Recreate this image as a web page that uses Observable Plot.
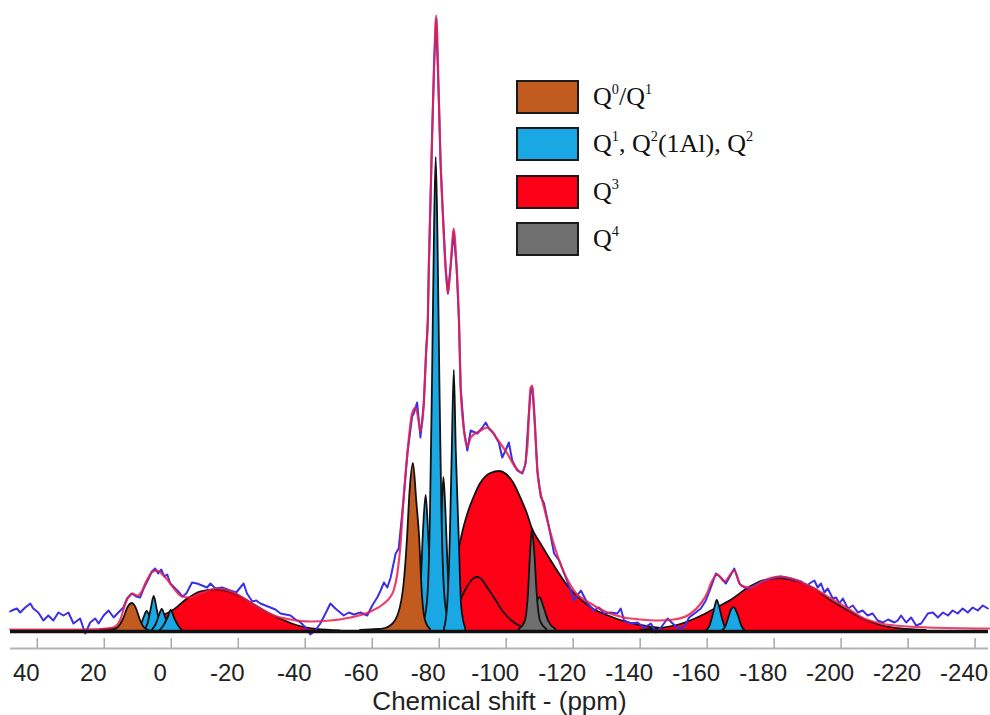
<!DOCTYPE html>
<html>
<head>
<meta charset="utf-8">
<script src="https://cdn.jsdelivr.net/npm/d3@7"></script>
<script src="https://cdn.jsdelivr.net/npm/@observablehq/plot@0.6"></script>
<style>
  html, body { margin: 0; padding: 0; background: #fff; }
  #wrap { position: relative; width: 990px; height: 715px; }
  .leg-row { position: absolute; left: 516px; display: flex; align-items: center; }
  .leg-box { width: 59px; height: 30px; border: 2px solid #1a1a1a; }
  .leg-text { margin-left: 14px; font-family: "Liberation Serif", "Times New Roman", serif; font-size: 26px; color: #111; white-space: nowrap; }
  .leg-text sup { font-size: 0.55em; vertical-align: 0.75em; line-height: 0; }
</style>
</head>
<body>
<div id="wrap"></div>
<script>
// ---- x axis (ppm) ----
const xDomain = [48, -244];
const xTicks = [40, 20, 0, -20, -40, -60, -80, -100, -120, -140, -160, -180, -200, -220, -240];
const xLabel = "Chemical shift - (ppm)";
const yDomain = [-17, 631]; // intensity, arbitrary units

// ---- legend ----
const groupKeys = ["q0q1", "q1q2", "q3", "q4"];
const groupColors = ["#c15b1f", "#1aa8e5", "#fe0016", "#6f6f6f"];
const legendLabels = [
  "Q<sup>0</sup>/Q<sup>1</sup>",
  "Q<sup>1</sup>, Q<sup>2</sup>(1Al), Q<sup>2</sup>",
  "Q<sup>3</sup>",
  "Q<sup>4</sup>"
];

// ---- experimental spectrum [ppm, intensity] ----
const experimental = [[48.1,20],[47.6,21],[46.1,23],[45.1,19],[43.6,24],[42.1,28],[41.2,23],[39.7,19],[38.2,11],[36.7,16],[35.2,11],[33.7,19],[32.2,16],[30.7,19],[29.2,8],[27.2,13],[25.7,-2],[24.2,9],[22.7,13],[21.7,8],[20.2,16],[18.7,21],[17.2,14],[15.8,19],[14.3,24],[13.2,33],[11.7,38],[10.5,35],[9.3,34],[8.1,44],[6.9,52],[5.8,60],[4.8,63],[3.9,58],[3.0,62],[2.1,55],[1.2,57],[0.3,48],[-0.9,44],[-2.1,40],[-3.3,35],[-4.5,38],[-6.2,49],[-7.7,48],[-9.2,46],[-10.7,44],[-11.7,48],[-13.2,43],[-15.2,44],[-17.6,41],[-19.4,39],[-20.6,44],[-21.6,48],[-22.6,38],[-24.2,30],[-25.4,31],[-26.6,28],[-28.1,26],[-29.6,24],[-31.1,22],[-32.6,18],[-34.1,17],[-35.6,16],[-37.1,12],[-38.6,9],[-40.1,4],[-41.5,-3],[-43.0,1],[-44.5,8],[-46.5,21],[-47.5,28],[-49.0,23],[-51.5,16],[-53.0,19],[-54.5,17],[-56.5,19],[-58.5,16],[-60.0,26],[-61.5,34],[-62.5,41],[-63.5,49],[-64.5,44],[-65.5,54],[-67.0,78],[-67.9,83],[-69.3,130],[-70.5,178],[-71.9,215],[-72.4,218],[-73.4,229],[-74.4,194],[-75.4,228],[-76.1,280],[-76.6,311],[-76.9,364],[-77.4,431],[-77.9,498],[-78.5,570],[-79.1,612],[-79.9,531],[-80.4,470],[-80.9,431],[-81.9,364],[-82.6,338],[-83.4,365],[-84.3,400],[-85.2,364],[-85.9,311],[-86.4,244],[-87.4,201],[-88.4,181],[-89.4,201],[-91.4,198],[-92.9,204],[-93.9,209],[-94.8,203],[-96.3,198],[-97.8,189],[-98.8,174],[-99.8,181],[-100.8,189],[-101.8,171],[-103.3,161],[-104.8,158],[-105.8,168],[-106.7,215],[-107.3,240],[-107.8,244],[-108.5,211],[-109.3,161],[-110.3,135],[-111.3,128],[-112.8,104],[-114.3,78],[-115.8,71],[-117.3,58],[-119.3,41],[-120.2,31],[-122.3,41],[-124.3,28],[-126.2,21],[-127.7,24],[-129.2,18],[-131.2,19],[-133.2,18],[-134.2,23],[-135.2,11],[-137.2,8],[-139.2,9],[-141.2,4],[-143.2,8],[-144.7,-1],[-146.2,4],[-148.2,13],[-149.7,8],[-151.2,3],[-153.1,4],[-154.6,14],[-156.6,19],[-158.1,23],[-159.6,31],[-161.1,44],[-162.6,58],[-164.1,54],[-165.6,48],[-168.1,63],[-169.6,48],[-171.1,44],[-172.6,43],[-174.1,46],[-176.1,49],[-179.0,53],[-182.0,55],[-185.0,53],[-188.0,50],[-189.8,46],[-191.0,49],[-192.0,51],[-193.0,44],[-194.0,48],[-195.0,39],[-196.0,43],[-197.5,33],[-198.5,34],[-199.5,28],[-200.5,33],[-202.0,23],[-203.5,26],[-205.0,19],[-206.4,21],[-207.9,16],[-209.4,18],[-210.9,11],[-212.5,9],[-214.0,12],[-215.9,9],[-216.9,11],[-217.9,16],[-219.4,9],[-220.9,14],[-222.4,6],[-223.9,8],[-225.9,18],[-227.4,19],[-228.9,14],[-230.4,19],[-231.9,16],[-233.3,21],[-234.8,18],[-236.3,23],[-237.8,19],[-239.3,24],[-240.8,21],[-242.3,26],[-243.8,23]];

// ---- total fit [ppm, intensity] ----
const fitCurve = [[48.1,2],[33.2,2],[21.2,2.5],[17.3,4],[15.2,12],[13.7,28],[11.7,38],[10.2,36],[8.8,40],[7.5,50],[5.8,59],[4.3,61],[2.3,56],[0.3,48],[-1.5,40],[-3.2,35],[-5.7,34],[-8.7,38],[-13.7,43],[-18.6,39],[-24.6,27],[-30.6,16],[-35.6,12],[-41.5,10],[-47.5,11],[-53.5,14],[-59.5,20],[-63.5,28],[-65.5,35],[-66.4,41],[-67.5,58],[-68.4,85],[-69.3,130],[-70.5,178],[-71.9,218],[-72.9,224],[-73.8,212],[-74.4,200],[-75.4,228],[-76.1,280],[-76.6,311],[-76.9,364],[-77.4,431],[-77.9,498],[-78.5,570],[-79.1,616],[-79.9,531],[-80.4,470],[-80.9,431],[-81.9,364],[-82.6,338],[-83.4,365],[-84.3,403],[-85.2,364],[-85.9,311],[-86.4,244],[-87.4,201],[-88.4,185],[-89.4,194],[-92.4,201],[-94.4,204],[-97.4,192],[-100.3,178],[-103.3,162],[-104.8,159],[-106.3,184],[-107.3,244],[-107.8,246],[-108.5,211],[-109.3,161],[-110.3,138],[-111.3,124],[-112.8,104],[-115.3,76],[-117.8,55],[-120.2,41],[-125.2,28],[-130.2,19],[-135.2,14],[-140.2,12],[-145.2,11],[-150.1,12],[-155.1,18],[-158.1,28],[-160.1,39],[-161.1,48],[-163.1,57],[-165.1,50],[-168.1,61],[-170.1,46],[-173.1,44],[-177.0,51],[-181.5,55],[-187.0,51],[-192.0,43],[-197.0,33],[-202.0,23],[-206.9,13],[-211.9,8],[-215.9,6],[-225.9,4],[-244.2,3]];

// ---- deconvolution components, each peak a list of [ppm, intensity] ----
const q3Peaks = [
  [[21.2,1.5],[15.2,3.5],[9.3,7.5],[3.3,14.5],[-0.6,21],[-4.7,32],[-8.7,39.5],[-13.7,41.7],[-18.6,38],[-23.6,29],[-28.6,19],[-33.6,11],[-38.5,5],[-43.5,2],[-50.5,0.5]],
  [[-56.5,1],[-62.5,2],[-68.4,3],[-74.4,5],[-78.9,12],[-81.9,30],[-84.0,55],[-85.8,80],[-87.4,104],[-88.9,121],[-90.4,134],[-92.4,148],[-95.4,158],[-98.1,160],[-100.1,157],[-102.3,148],[-104.3,134],[-106.3,118],[-107.8,103],[-110.3,88],[-114.3,66],[-118.3,46],[-122.3,32],[-126.2,22],[-130.2,16],[-135.2,10],[-140.2,6],[-146.2,3],[-155.1,1.5],[-164.1,0.5]],
  [[-78.9,2],[-82.4,8],[-84.4,18],[-86.4,31],[-88.4,44],[-89.8,51],[-91.4,54],[-92.4,53],[-94.4,44],[-96.4,34],[-99.3,19],[-102.3,9],[-104.9,4],[-108.8,1]],
  [[-140.2,1],[-146.2,3],[-152.1,7],[-158.1,15],[-162.6,23],[-167.1,31],[-172.1,43],[-176.6,50.5],[-181.7,53],[-186.8,50],[-192.0,42.7],[-197.0,31],[-202.0,21],[-206.9,12],[-211.9,6],[-217.9,2.5],[-225.4,1]]
];
const q4Peaks = [
  [[-105.7,2],[-107.6,10],[-108.9,25],[-110.1,34],[-111.2,25],[-112.7,10],[-114.8,2]],
  [[-103.9,2],[-105.7,10],[-106.6,35],[-107.3,80],[-107.8,101],[-108.5,80],[-109.3,35],[-110.3,10],[-112.1,2]]
];
const q1q2Peaks = [
  [[10.2,1],[9.0,6],[8.1,14],[7.2,20],[6.3,14],[5.4,6],[4.2,1]],
  [[8.1,1],[6.9,8],[6.0,22],[5.1,35],[4.2,22],[3.3,8],[2.1,1]],
  [[5.7,1],[4.5,7],[3.6,15],[2.7,22],[1.8,15],[0.9,7],[-0.3,1]],
  [[3.3,1],[2.1,6],[0.9,14],[0,21],[-0.9,14],[-2.1,6],[-3.3,1]],
  [[-72.0,2],[-73.5,12],[-74.6,45],[-75.3,100],[-76.1,136],[-76.8,100],[-77.6,45],[-78.6,12],[-80.1,2]],
  [[-78.6,2],[-79.5,15],[-80.3,60],[-80.9,120],[-81.4,154],[-82.0,120],[-82.7,60],[-83.4,15],[-84.3,2]],
  [[-74.4,4],[-75.9,15],[-76.8,45],[-77.4,120],[-78.0,250],[-78.6,400],[-79.1,474],[-79.6,400],[-80.2,250],[-80.8,120],[-81.5,45],[-82.5,15],[-84.3,4]],
  [[-81.6,3],[-82.5,25],[-83.3,91],[-83.9,180],[-84.5,261],[-85.1,180],[-86.0,91],[-86.7,25],[-87.9,3]],
  [[-159.9,1],[-160.8,5],[-161.7,15],[-162.5,26],[-163.0,31],[-163.6,26],[-164.4,15],[-165.3,5],[-166.2,1]],
  [[-164.7,1],[-165.6,5],[-166.5,14],[-167.2,21],[-168.0,24],[-168.7,21],[-169.5,14],[-170.4,5],[-171.3,1]]
];
const q0q1Peaks = [
  [[17.6,1],[15.8,4],[14.3,12],[12.9,24],[11.6,28],[10.3,22],[9.3,12],[8.1,4],[6.6,1]],
  [[-59.5,1],[-64.0,3],[-67.0,11],[-69.3,41],[-70.5,91],[-71.3,140],[-72.3,168],[-73.3,130],[-74.2,91],[-74.9,41],[-75.9,11],[-77.4,2]]
];

// build a table of component points, in drawing order (red, grey, blue, brown)
const components = [];
[["q3", q3Peaks], ["q4", q4Peaks], ["q1q2", q1q2Peaks], ["q0q1", q0q1Peaks]].forEach(([g, peaks]) => {
  peaks.forEach((pk, i) => pk.forEach(([ppm, v]) => components.push({group: g, id: g + "-" + i, ppm, v})));
});
const expRows = experimental.map(([ppm, v]) => ({ppm, v}));
const fitRows = fitCurve.map(([ppm, v]) => ({ppm, v}));

const chart = Plot.plot({
  width: 990,
  height: 715,
  marginLeft: 10,
  marginRight: 2,
  marginTop: 0,
  marginBottom: 67,
  style: {fontFamily: "'Liberation Sans', Arial, sans-serif", background: "#fff", overflow: "visible"},
  x: {domain: xDomain},
  y: {domain: yDomain, axis: null},
  color: {domain: groupKeys, range: groupColors},
  marks: [
    // one filled, outlined area per fitted component (no stacking)
    Plot.area(components, {x1: "ppm", y1: 0, y2: "v", z: "id", fill: "group", stroke: "#111", strokeWidth: 1.8, curve: "monotone-x"}),
    Plot.line(expRows, {x: "ppm", y: "v", stroke: "#3d2fe3", strokeWidth: 2}),
    Plot.line(fitRows, {x: "ppm", y: "v", stroke: "#e8204e", strokeWidth: 2.2, strokeOpacity: 0.85, curve: "monotone-x"}),
    Plot.ruleY([0], {stroke: "#111", strokeWidth: 3.5}),
    Plot.ruleY([yDomain[0]], {stroke: "#b4b4b4", strokeWidth: 2}),
    // inward tick marks
    Plot.axisX(xTicks, {tickSize: -10, stroke: "#a8a8a8", strokeWidth: 1.5, tickFormat: () => "", label: null}),
    // tick labels
    Plot.axisX(xTicks, {tickSize: 0, tickPadding: 15, dx: -11, fontSize: 24, fill: "#222", tickFormat: d => String(d), label: null}),
    Plot.text([xLabel], {frameAnchor: "bottom", dy: 61, fontSize: 26, fill: "#222"})
  ]
});

const wrap = document.getElementById("wrap");
wrap.appendChild(chart);

legendLabels.forEach((lab, i) => {
  const row = document.createElement("div");
  row.className = "leg-row";
  row.style.top = (80 + i * 47.3) + "px";
  const box = document.createElement("div");
  box.className = "leg-box";
  box.style.background = groupColors[i];
  const txt = document.createElement("div");
  txt.className = "leg-text";
  txt.innerHTML = lab;
  row.appendChild(box);
  row.appendChild(txt);
  wrap.appendChild(row);
});
</script>
</body>
</html>
